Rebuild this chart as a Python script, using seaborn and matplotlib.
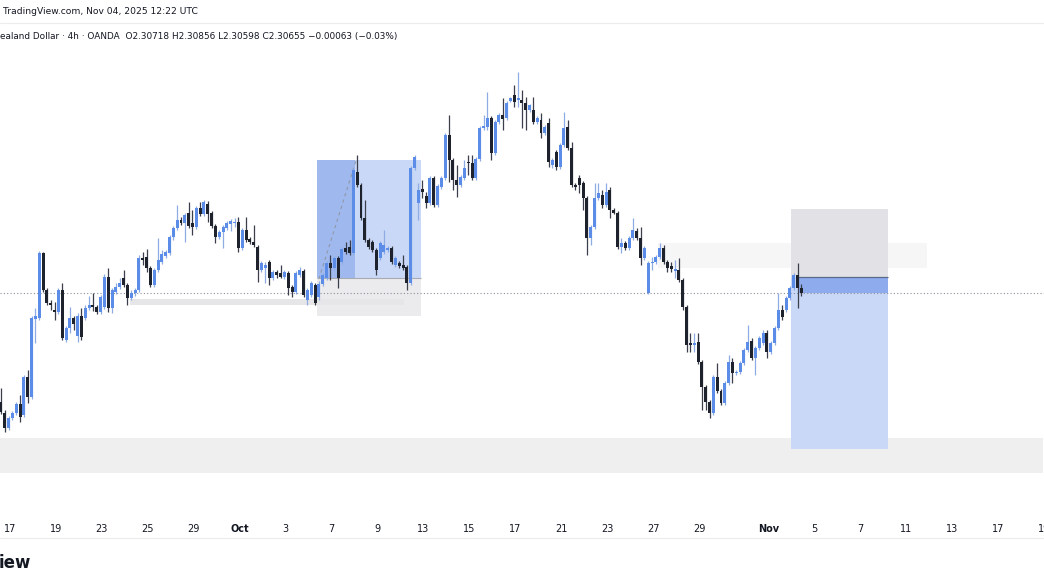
import matplotlib
matplotlib.use('Agg')
import matplotlib.pyplot as plt
import seaborn as sns
import numpy as np
from matplotlib.patches import Rectangle
from matplotlib.lines import Line2D

# 4h candles (first visible candle = 1)
opens = [2.2957, 2.2946, 2.2931, 2.2941, 2.2946, 2.2955, 2.2944, 2.2982, 2.2962, 2.3040,
         2.3041, 2.3106, 2.3069, 2.3056, 2.3049, 2.3047, 2.3069, 2.3019, 2.3031, 2.3041,
         2.3023, 2.3043, 2.3041, 2.3051, 2.3054, 2.3052, 2.3047, 2.3052, 2.3082, 2.3051,
         2.3067, 2.3072, 2.3081, 2.3074, 2.3061, 2.3066, 2.3069, 2.3101, 2.3102, 2.3091,
         2.3074, 2.3089, 2.3097, 2.3103, 2.3106, 2.3122, 2.3131, 2.3139, 2.3136, 2.3146,
         2.3136, 2.3132, 2.3151, 2.3145, 2.3155, 2.3146, 2.3133, 2.3122, 2.3127, 2.3131,
         2.3135, 2.3136, 2.3137, 2.3111, 2.3129, 2.3120, 2.3117, 2.3112, 2.3089, 2.3091,
         2.3097, 2.3081, 2.3087, 2.3086, 2.3082, 2.3086, 2.3072, 2.3067, 2.3084, 2.3088,
         2.3059, 2.3064, 2.3074, 2.3062, 2.3075, 2.3081, 2.3096, 2.3091, 2.3101, 2.3097,
         2.3111, 2.3112, 2.3106, 2.3187, 2.3174, 2.3141, 2.3119, 2.3117, 2.3109, 2.3101,
         2.3107, 2.3109, 2.3111, 2.3094, 2.3096, 2.3094, 2.3092, 2.3076, 2.3191, 2.3156,
         2.3170, 2.3163, 2.3156, 2.3181, 2.3154, 2.3172, 2.3181, 2.3224, 2.3199, 2.3179,
         2.3174, 2.3181, 2.3197, 2.3196, 2.3181, 2.3200, 2.3231, 2.3232, 2.3241, 2.3206,
         2.3237, 2.3244, 2.3241, 2.3258, 2.3264, 2.3259, 2.3259, 2.3256, 2.3249, 2.3249,
         2.3237, 2.3239, 2.3226, 2.3236, 2.3194, 2.3207, 2.3192, 2.3214, 2.3232, 2.3211,
         2.3174, 2.3181, 2.3176, 2.3161, 2.3121, 2.3132, 2.3161, 2.3164, 2.3154, 2.3169,
         2.3149, 2.3146, 2.3112, 2.3116, 2.3111, 2.3121, 2.3128, 2.3121, 2.3101, 2.3066,
         2.3096, 2.3097, 2.3102, 2.3111, 2.3097, 2.3093, 2.3088, 2.3089, 2.3079, 2.3052,
         2.3016, 2.3014, 2.3017, 2.2997, 2.2972, 2.2957, 2.2946, 2.2982, 2.2968, 2.2956,
         2.2976, 2.2997, 2.2986, 2.2987, 2.2996, 2.3009, 2.3018, 2.3001, 2.3011, 2.3016,
         2.3026, 2.3007, 2.3016, 2.3031, 2.3049, 2.3049, 2.3061, 2.3071, 2.3084, 2.3071]
highs = [2.2971, 2.2949, 2.2943, 2.2948, 2.2957, 2.2964, 2.2984, 2.2989, 2.3043, 2.3051,
         2.3108, 2.3107, 2.3071, 2.3059, 2.3057, 2.3071, 2.3076, 2.3033, 2.3052, 2.3043,
         2.3046, 2.3051, 2.3054, 2.3063, 2.3066, 2.3054, 2.3064, 2.3085, 2.3091, 2.3071,
         2.3076, 2.3081, 2.3089, 2.3076, 2.3069, 2.3071, 2.3104, 2.3107, 2.3110, 2.3093,
         2.3091, 2.3121, 2.3109, 2.3109, 2.3124, 2.3133, 2.3154, 2.3142, 2.3146, 2.3157,
         2.3149, 2.3153, 2.3157, 2.3159, 2.3158, 2.3148, 2.3135, 2.3129, 2.3134, 2.3138,
         2.3140, 2.3141, 2.3142, 2.3131, 2.3142, 2.3122, 2.3134, 2.3114, 2.3098, 2.3097,
         2.3099, 2.3089, 2.3089, 2.3094, 2.3089, 2.3088, 2.3074, 2.3088, 2.3092, 2.3090,
         2.3071, 2.3078, 2.3076, 2.3078, 2.3086, 2.3098, 2.3104, 2.3103, 2.3103, 2.3112,
         2.3117, 2.3119, 2.3191, 2.3204, 2.3176, 2.3159, 2.3121, 2.3119, 2.3111, 2.3118,
         2.3129, 2.3113, 2.3113, 2.3103, 2.3098, 2.3104, 2.3094, 2.3193, 2.3204, 2.3176,
         2.3179, 2.3167, 2.3183, 2.3183, 2.3175, 2.3183, 2.3226, 2.3244, 2.3201, 2.3194,
         2.3184, 2.3199, 2.3204, 2.3204, 2.3202, 2.3233, 2.3244, 2.3267, 2.3243, 2.3239,
         2.3246, 2.3261, 2.3258, 2.3262, 2.3274, 2.3287, 2.3269, 2.3262, 2.3255, 2.3262,
         2.3243, 2.3246, 2.3234, 2.3241, 2.3201, 2.3209, 2.3216, 2.3247, 2.3239, 2.3217,
         2.3176, 2.3184, 2.3178, 2.3163, 2.3134, 2.3176, 2.3176, 2.3169, 2.3176, 2.3172,
         2.3151, 2.3148, 2.3121, 2.3118, 2.3123, 2.3141, 2.3131, 2.3132, 2.3113, 2.3098,
         2.3102, 2.3104, 2.3116, 2.3114, 2.3099, 2.3097, 2.3099, 2.3101, 2.3081, 2.3054,
         2.3026, 2.3026, 2.3026, 2.2999, 2.2974, 2.2959, 2.2984, 2.2996, 2.2970, 2.2978,
         2.3004, 2.3001, 2.2989, 2.2998, 2.3011, 2.3034, 2.3021, 2.3013, 2.3023, 2.3029,
         2.3029, 2.3018, 2.3033, 2.3066, 2.3054, 2.3063, 2.3073, 2.3086, 2.3096, 2.3075]
lows = [2.2945, 2.2927, 2.2929, 2.2939, 2.2944, 2.2937, 2.2942, 2.2956, 2.2960, 2.3016,
        2.3039, 2.3067, 2.3054, 2.3049, 2.3039, 2.3045, 2.3019, 2.3017, 2.3026, 2.3029,
        2.3017, 2.3019, 2.3039, 2.3049, 2.3048, 2.3045, 2.3045, 2.3050, 2.3047, 2.3046,
        2.3065, 2.3070, 2.3072, 2.3054, 2.3059, 2.3063, 2.3067, 2.3094, 2.3087, 2.3072,
        2.3072, 2.3087, 2.3095, 2.3101, 2.3104, 2.3119, 2.3129, 2.3134, 2.3117, 2.3131,
        2.3124, 2.3130, 2.3143, 2.3143, 2.3137, 2.3131, 2.3116, 2.3120, 2.3111, 2.3129,
        2.3128, 2.3132, 2.3107, 2.3109, 2.3117, 2.3115, 2.3112, 2.3077, 2.3087, 2.3076,
        2.3074, 2.3079, 2.3081, 2.3081, 2.3080, 2.3064, 2.3062, 2.3065, 2.3082, 2.3062,
        2.3054, 2.3062, 2.3054, 2.3059, 2.3073, 2.3079, 2.3079, 2.3089, 2.3071, 2.3095,
        2.3105, 2.3104, 2.3104, 2.3172, 2.3139, 2.3117, 2.3110, 2.3107, 2.3084, 2.3099,
        2.3105, 2.3107, 2.3095, 2.3092, 2.3091, 2.3089, 2.3069, 2.3074, 2.3189, 2.3139,
        2.3161, 2.3151, 2.3154, 2.3152, 2.3152, 2.3170, 2.3179, 2.3177, 2.3169, 2.3162,
        2.3172, 2.3179, 2.3184, 2.3179, 2.3179, 2.3198, 2.3229, 2.3229, 2.3199, 2.3204,
        2.3235, 2.3229, 2.3239, 2.3257, 2.3252, 2.3252, 2.3231, 2.3229, 2.3247, 2.3235,
        2.3235, 2.3221, 2.3224, 2.3192, 2.3191, 2.3189, 2.3190, 2.3212, 2.3209, 2.3172,
        2.3169, 2.3166, 2.3149, 2.3104, 2.3114, 2.3130, 2.3159, 2.3151, 2.3152, 2.3141,
        2.3145, 2.3110, 2.3106, 2.3109, 2.3109, 2.3119, 2.3119, 2.3094, 2.3099, 2.3065,
        2.3089, 2.3095, 2.3100, 2.3095, 2.3087, 2.3087, 2.3081, 2.3077, 2.3049, 2.3007,
        2.3007, 2.3007, 2.2995, 2.2949, 2.2949, 2.2941, 2.2944, 2.2966, 2.2954, 2.2954,
        2.2974, 2.2976, 2.2984, 2.2985, 2.2994, 2.3007, 2.2999, 2.2984, 2.3009, 2.3014,
        2.3001, 2.3005, 2.3014, 2.3029, 2.3039, 2.3047, 2.3059, 2.3069, 2.3051, 2.3063]
closes = [2.2947, 2.2931, 2.2941, 2.2946, 2.2955, 2.2942, 2.2982, 2.2962, 2.3041, 2.3043,
          2.3106, 2.3069, 2.3056, 2.3054, 2.3047, 2.3069, 2.3021, 2.3031, 2.3041, 2.3035,
          2.3043, 2.3022, 2.3051, 2.3054, 2.3052, 2.3047, 2.3062, 2.3082, 2.3051, 2.3069,
          2.3072, 2.3076, 2.3074, 2.3061, 2.3066, 2.3069, 2.3101, 2.3099, 2.3091, 2.3074,
          2.3089, 2.3099, 2.3105, 2.3107, 2.3122, 2.3131, 2.3139, 2.3136, 2.3144, 2.3133,
          2.3132, 2.3151, 2.3145, 2.3157, 2.3145, 2.3133, 2.3122, 2.3127, 2.3132, 2.3136,
          2.3138, 2.3137, 2.3111, 2.3129, 2.3119, 2.3117, 2.3114, 2.3089, 2.3096, 2.3094,
          2.3081, 2.3087, 2.3084, 2.3082, 2.3087, 2.3071, 2.3067, 2.3086, 2.3089, 2.3064,
          2.3069, 2.3076, 2.3056, 2.3075, 2.3084, 2.3096, 2.3091, 2.3101, 2.3081, 2.3110,
          2.3107, 2.3106, 2.3189, 2.3174, 2.3141, 2.3119, 2.3112, 2.3109, 2.3089, 2.3116,
          2.3114, 2.3111, 2.3097, 2.3101, 2.3093, 2.3091, 2.3076, 2.3191, 2.3202, 2.3169,
          2.3167, 2.3156, 2.3181, 2.3154, 2.3173, 2.3181, 2.3224, 2.3199, 2.3179, 2.3174,
          2.3182, 2.3191, 2.3196, 2.3181, 2.3200, 2.3231, 2.3233, 2.3241, 2.3206, 2.3237,
          2.3244, 2.3240, 2.3256, 2.3261, 2.3257, 2.3261, 2.3256, 2.3249, 2.3254, 2.3237,
          2.3241, 2.3226, 2.3232, 2.3197, 2.3199, 2.3192, 2.3214, 2.3231, 2.3211, 2.3174,
          2.3172, 2.3174, 2.3161, 2.3121, 2.3132, 2.3161, 2.3166, 2.3154, 2.3167, 2.3149,
          2.3146, 2.3112, 2.3116, 2.3111, 2.3121, 2.3129, 2.3121, 2.3101, 2.3111, 2.3096,
          2.3097, 2.3102, 2.3111, 2.3097, 2.3091, 2.3090, 2.3090, 2.3079, 2.3052, 2.3014,
          2.3014, 2.3016, 2.2997, 2.2972, 2.2957, 2.2946, 2.2982, 2.2968, 2.2956, 2.2976,
          2.2997, 2.2986, 2.2987, 2.2996, 2.3009, 2.3017, 2.3001, 2.3011, 2.3021, 2.3026,
          2.3007, 2.3016, 2.3031, 2.3049, 2.3042, 2.3061, 2.3071, 2.3084, 2.3071, 2.3066]

last_price = 2.3066

# time axis: trading-day number counted from Sep 17, and the label TradingView shows
tick_days = [0, 2, 4, 6, 8, 10, 12, 14, 16, 18, 20, 22, 24, 26, 28, 30, 33, 35, 37, 39, 41, 43, 45]
tick_labels = ['17', '19', '23', '25', '29', 'Oct', '3', '7', '9', '13', '15', '17',
               '21', '23', '27', '29', 'Nov', '5', '7', '11', '13', '17', '19']
month_labels = ['Oct', 'Nov']

# drawings on the chart: (first candle, last candle, low price, high price)
demand_zone = (0.0, 273.0, 2.2886, 2.2921)
old_band = (34.6, 106.2, 2.3054, 2.3060)
resist_zone = (172.6, 242.9, 2.3091, 2.3116)
pos1_target = (83.5, 110.6, 2.3081, 2.3199)
pos1_filled = (83.5, 93.4, 2.3081, 2.3199)
pos1_stop = (83.5, 110.6, 2.3043, 2.3081)
pos1_path = ([84.0, 93.9], [2.3080, 2.3201])
pos2_stop = (207.2, 232.5, 2.3082, 2.3150)
pos2_target = (207.2, 232.5, 2.2910, 2.3082)
pos2_filled = (209.0, 232.5, 2.3066, 2.3082)

bull = '#5b8de8'
bear = '#1e222d'

sns.set_theme(style='white')
plt.rcParams['font.family'] = ['DejaVu Sans']

W, H = 1044, 588
fig = plt.figure(figsize=(W / 100, H / 100), dpi=100)
ax = fig.add_axes([0, 78 / H, 1, 486 / H])
ax.set_facecolor('white')

def box(spec, color, z=0.5):
    x0, x1, y0, y1 = spec
    ax.add_patch(Rectangle((x0, y0), x1 - x0, y1 - y0, facecolor=color,
                           edgecolor='none', zorder=z))

box(demand_zone, '#efeff0')
box(resist_zone, '#f6f6f7')
box(pos1_target, '#c9d8f6')
box(pos1_filled, '#9fb9ef', 0.6)
box(pos1_stop, '#ebebed')
box(old_band, '#e6e6e8', 0.7)
box(pos2_stop, '#e2e2e6')
box(pos2_target, '#c9d8f6')
box(pos2_filled, '#8eabee', 0.6)

ax.plot(pos1_path[0], pos1_path[1], ls=(0, (3, 3)), color='#9098a8', lw=0.8, zorder=1)
ax.hlines(pos1_target[2], pos1_target[0], pos1_target[1], color='#a9abb3', lw=0.8, zorder=1)
ax.hlines(pos2_filled[3], pos2_filled[0], pos2_filled[1], color='#5a6a8e', lw=0.9, zorder=1)

ax.axhline(last_price, color='#8a8e99', lw=0.8, ls=(0, (1, 2)), zorder=1)

o = np.array(opens)
c = np.array(closes)
idx = np.arange(1, len(o) + 1)
up = c >= o
body_lo = np.minimum(o, c)
body_h = np.maximum(np.abs(c - o), 0.00012)

ax.vlines(idx[up], np.array(lows)[up], np.array(highs)[up], color='#8fabe3', lw=0.9, zorder=2)
ax.vlines(idx[~up], np.array(lows)[~up], np.array(highs)[~up], color='#3a3f4b', lw=0.9, zorder=2)
ax.bar(idx[up], body_h[up], bottom=body_lo[up], width=0.78, color=bull, linewidth=0, zorder=3)
ax.bar(idx[~up], body_h[~up], bottom=body_lo[~up], width=0.78, color=bear, linewidth=0, zorder=3)

ax.set_xlim(0.74, 272.5)
ax.set_ylim(2.2849, 2.3335)
for s in ax.spines.values():
    s.set_visible(False)
ax.set_yticks([])
ax.set_xticks([3.34 + 6 * d for d in tick_days])
ax.set_xticklabels(tick_labels)
ax.tick_params(axis='x', length=0, pad=10, labelsize=7, labelcolor='#131722')
for t in ax.get_xticklabels():
    if t.get_text() in month_labels:
        t.set_fontweight('bold')

# separators and header / footer texts
fig.add_artist(Line2D([0, 1], [1 - 23 / H, 1 - 23 / H], color='#ececec', lw=0.8))
fig.add_artist(Line2D([0, 1], [1 - 538 / H, 1 - 538 / H], color='#ececec', lw=0.8))
fig.text(3 / W, 1 - 12 / H, 'TradingView.com, Nov 04, 2025 12:22 UTC',
         fontsize=6.6, color='#131722', va='center', ha='left')
fig.text(0 / W, 1 - 36 / H,
         'ealand Dollar · 4h · OANDA  O2.30718 H2.30856 L2.30598 C2.30655 \u22120.00063 (\u22120.03%)',
         fontsize=6.4, color='#131722', va='center', ha='left')
fig.text(-1 / W, 1 - 563 / H, 'iew', fontsize=12, fontweight='bold',
         color='#131722', va='center', ha='left')

fig.savefig('out.png', dpi=100, facecolor='white')
